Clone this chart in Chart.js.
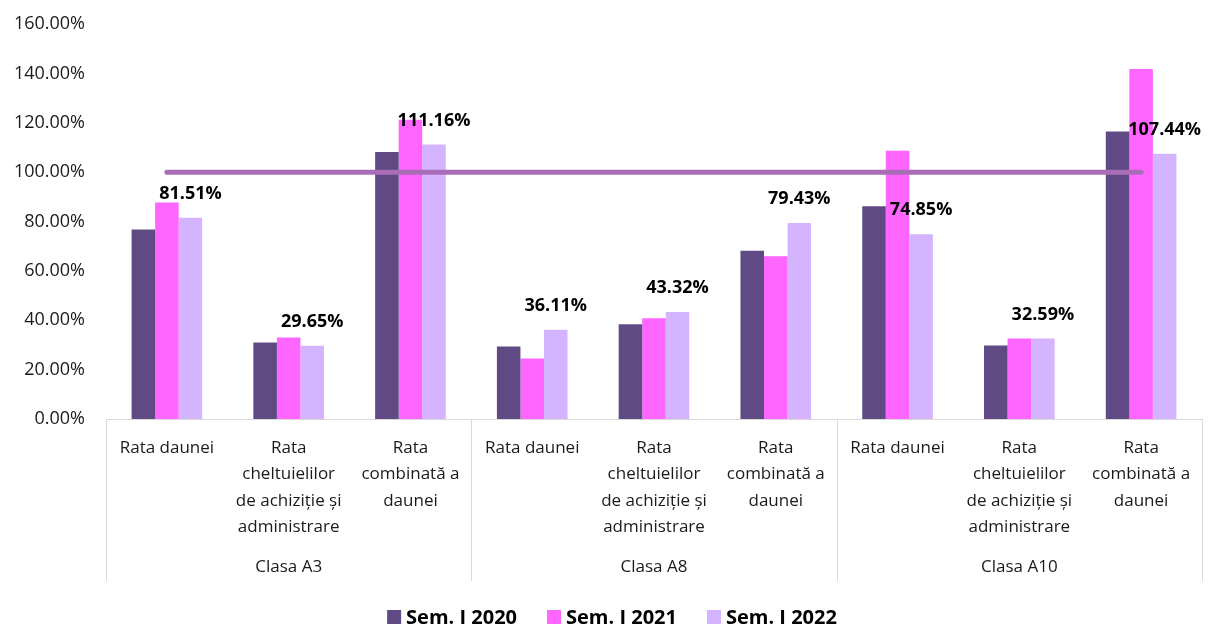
<!DOCTYPE html>
<html>
<head>
<meta charset="utf-8">
<script src="https://cdn.jsdelivr.net/npm/chart.js@4.4.0/dist/chart.umd.min.js"></script>
<style>
html, body { margin: 0; padding: 0; background: #fff; }
#wrap { width: 1208px; height: 627px; position: relative; }
</style>
</head>
<body>
<div id="wrap"><canvas id="barChart"></canvas></div>
<script>
// categorii (repetate pe fiecare clasa)
var categorii = [
    ["Rata daunei"], ["Rata", "cheltuielilor", "de achiziție și", "administrare"], ["Rata", "combinată a", "daunei"],
    ["Rata daunei"], ["Rata", "cheltuielilor", "de achiziție și", "administrare"], ["Rata", "combinată a", "daunei"],
    ["Rata daunei"], ["Rata", "cheltuielilor", "de achiziție și", "administrare"], ["Rata", "combinată a", "daunei"]
];
var clase = ["Clasa A3", "Clasa A8", "Clasa A10"];
var serii = ["Sem. I 2020", "Sem. I 2021", "Sem. I 2022"];

var sem2020 = [76.8, 31.0, 108.2, 29.4, 38.4, 68.2, 86.2, 29.8, 116.5];
var sem2021 = [87.7, 33.0, 121.2, 24.5, 40.8, 65.9, 108.7, 32.6, 141.8];
var sem2022 = [81.51, 29.65, 111.16, 36.11, 43.32, 79.43, 74.85, 32.59, 107.44];
var prag = [100, 100, 100, 100, 100, 100, 100, 100, 100];

var yMin = 0, yMax = 160, yStep = 20;

var fontFam = "'Open Sans', sans-serif";
Chart.defaults.font.family = fontFam;

// etichete de valoare pe seria 2022
var etichete = {
    id: 'etichete',
    afterDatasetsDraw: function(chart) {
        var ctx = chart.ctx;
        var meta = chart.getDatasetMeta(3);
        ctx.save();
        ctx.font = "bold 18px " + fontFam;
        ctx.fillStyle = "#000";
        ctx.textAlign = "center";
        ctx.textBaseline = "middle";
        meta.data.forEach(function(bar, i) {
            ctx.fillText(sem2022[i].toFixed(2) + "%", bar.x, bar.y - 24);
        });
        ctx.restore();
    }
};

// clase sub axa + legenda
var grupe = {
    id: 'grupe',
    afterDraw: function(chart) {
        var ctx = chart.ctx;
        var xs = chart.scales.x;
        var area = chart.chartArea;
        ctx.save();
        ctx.strokeStyle = "#d9d9d9";
        ctx.lineWidth = 1;
        for (var g = 0; g <= clase.length; g++) {
            var px;
            if (g == 0) px = area.left;
            else if (g == clase.length) px = area.right;
            else px = (xs.getPixelForValue(g * 3 - 1) + xs.getPixelForValue(g * 3)) / 2;
            px = Math.round(px) + 0.5;
            ctx.beginPath();
            ctx.moveTo(px, area.bottom);
            ctx.lineTo(px, 581);
            ctx.stroke();
        }
        ctx.font = "17px " + fontFam;
        ctx.fillStyle = "#1a1a1a";
        ctx.textAlign = "center";
        ctx.textBaseline = "middle";
        clase.forEach(function(c, g) {
            ctx.fillText(c, xs.getPixelForValue(g * 3 + 1), 567);
        });

        // legenda
        ctx.font = "bold 20px " + fontFam;
        var box = 14, gap = 5, spacing = 30;
        var widths = serii.map(function(s) { return ctx.measureText(s).width; });
        var total = 0;
        widths.forEach(function(w) { total += box + gap + w; });
        total += spacing * (serii.length - 1);
        var x = 612 - total / 2;
        var y = 617;
        ctx.textAlign = "left";
        serii.forEach(function(s, i) {
            ctx.fillStyle = chart.data.datasets[i + 1].backgroundColor;
            ctx.fillRect(x, y - box / 2, box, box);
            ctx.fillStyle = "#000";
            ctx.fillText(s, x + box + gap, y + 1);
            x += box + gap + widths[i] + spacing;
        });
        ctx.restore();
    }
};

var ctxB = document.getElementById("barChart").getContext('2d');
var myBarChart = new Chart(ctxB, {
    type: 'bar',
    data: {
        labels: categorii,
        datasets: [
            {
                type: 'line',
                label: "100%",
                data: prag,
                borderColor: "#A96DB8",
                borderWidth: 5,
                borderCapStyle: 'round',
                pointRadius: 0,
                fill: false,
                order: 0
            },
            {
                label: serii[0],
                data: sem2020,
                backgroundColor: "#604A84",
                order: 1
            },
            {
                label: serii[1],
                data: sem2021,
                backgroundColor: "#FF66FF",
                order: 1
            },
            {
                label: serii[2],
                data: sem2022,
                backgroundColor: "#D5B4FF",
                order: 1
            }
        ]
    },
    options: {
        responsive: true,
        maintainAspectRatio: false,
        animation: false,
        layout: { padding: { top: 24, right: 6, bottom: 0, left: 0 } },
        datasets: {
            bar: { categoryPercentage: 0.58, barPercentage: 1.0 }
        },
        plugins: {
            legend: { display: false },
            tooltip: { enabled: false }
        },
        scales: {
            x: {
                grid: { display: false, drawTicks: false },
                border: { display: true, color: "#d9d9d9", width: 1 },
                ticks: {
                    autoSkip: false,
                    maxRotation: 0,
                    padding: 16,
                    color: "#1a1a1a",
                    font: { size: 17, lineHeight: 1.55 }
                },
                afterFit: function(scale) { scale.height = 208; }
            },
            y: {
                min: yMin,
                max: yMax,
                grid: { display: false, drawTicks: false },
                border: { display: false },
                ticks: {
                    stepSize: yStep,
                    padding: 21,
                    color: "#1a1a1a",
                    font: { size: 18 },
                    callback: function(v) { return v.toFixed(2) + "%"; }
                },
                afterFit: function(scale) {
                    scale.width = 106;
                    scale.paddingTop = 10;
                }
            }
        }
    },
    plugins: [etichete, grupe]
});
</script>
</body>
</html>
